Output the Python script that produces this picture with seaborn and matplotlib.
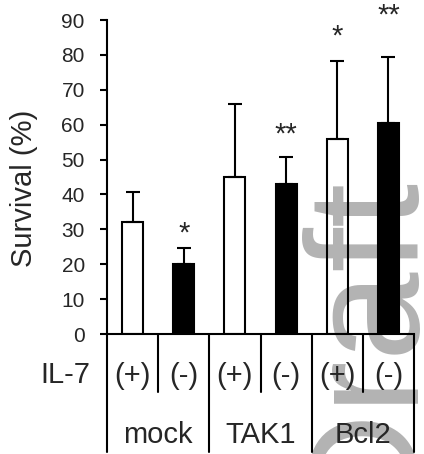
import numpy as np
import pandas as pd
import matplotlib
matplotlib.use("Agg")
import matplotlib.pyplot as plt
import matplotlib.transforms as mtransforms
import seaborn as sns

# values
groups = ["mock", "TAK1", "Bcl2"]
il7 = ["(+)", "(-)", "(+)", "(-)", "(+)", "(-)"]
survival = [32, 20, 45, 43, 56, 60.5]
err_up = [8.7, 4.7, 20.8, 7.7, 22.2, 19.0]
stars = ["", "*", "", "**", "*", "**"]
star_y = [0, 26.5, 0, 55, 83, 89]

sns.set_style("ticks")
plt.rcParams["font.family"] = ["Liberation Sans", "DejaVu Sans"]
narrow = ["Liberation Sans Narrow", "Liberation Sans", "DejaVu Sans"]

cond = [groups[i // 2] + " " + il7[i] for i in range(len(il7))]
df = pd.DataFrame({"cond": cond, "survival": survival})
colors = ["white" if s == "(+)" else "black" for s in il7]

fig = plt.figure(figsize=(4.24, 4.54), dpi=100)
ax = fig.add_axes([0.2524, 0.2643, 0.724, 0.6916])
ax.patch.set_visible(False)

# watermark behind everything
fig.text(406 / 424, -61 / 454, "Draft", rotation=90, rotation_mode="anchor",
         ha="left", va="baseline", fontsize=115, color="#b3b3b3", zorder=-1)

sns.barplot(data=df, x="cond", y="survival", hue="cond", palette=colors,
            width=0.41, edgecolor="black", linewidth=1.5, errorbar=None,
            legend=False, ax=ax)
for p, s in zip(ax.patches, il7):
    if s == "(+)":
        p.set_facecolor("none")

ax.errorbar(x=np.arange(len(survival)), y=survival,
            yerr=[np.zeros(len(err_up)), err_up], fmt="none", ecolor="black",
            elinewidth=1.5, capsize=5, capthick=1.5, zorder=3)

for i, s in enumerate(stars):
    if s:
        ax.text(i, star_y[i], s, ha="center", va="baseline", fontsize=21)

ax.set_xlim(-0.5, len(il7) - 0.5)
ax.set_ylim(0, 90)
ax.set_yticks(range(0, 91, 10))
ax.set_xticks([])
ax.set_xlabel("")
ax.set_ylabel("Survival (%)", fontsize=21)
ax.yaxis.set_label_coords(-0.225, 0.463)
sns.despine(ax=ax)
for side in ["left", "bottom"]:
    ax.spines[side].set_linewidth(1.5)
    ax.spines[side].set_color("black")
ax.tick_params(axis="y", length=5, width=1.5, pad=11, labelsize=15, color="black")

# category table under the axis
trans = mtransforms.blended_transform_factory(ax.transData, ax.transAxes)
for i in range(len(il7) + 1):
    yb = -0.376 if i % 2 == 0 else -0.185
    ax.plot([i - 0.5, i - 0.5], [0, yb], transform=trans, color="black",
            lw=1.5, clip_on=False)
for i, s in enumerate(il7):
    ax.text(i, -0.134, s, transform=trans, ha="center", va="center",
            fontsize=21, family=narrow)
for j, g in enumerate(groups):
    ax.text(2 * j + 0.5, -0.322, g, transform=trans, ha="center", va="center",
            fontsize=21, family=narrow)
ax.text(-0.055, -0.13, "IL-7", transform=ax.transAxes, ha="right", va="center",
        fontsize=21, family=narrow)

fig.savefig("out.png", dpi=100)
